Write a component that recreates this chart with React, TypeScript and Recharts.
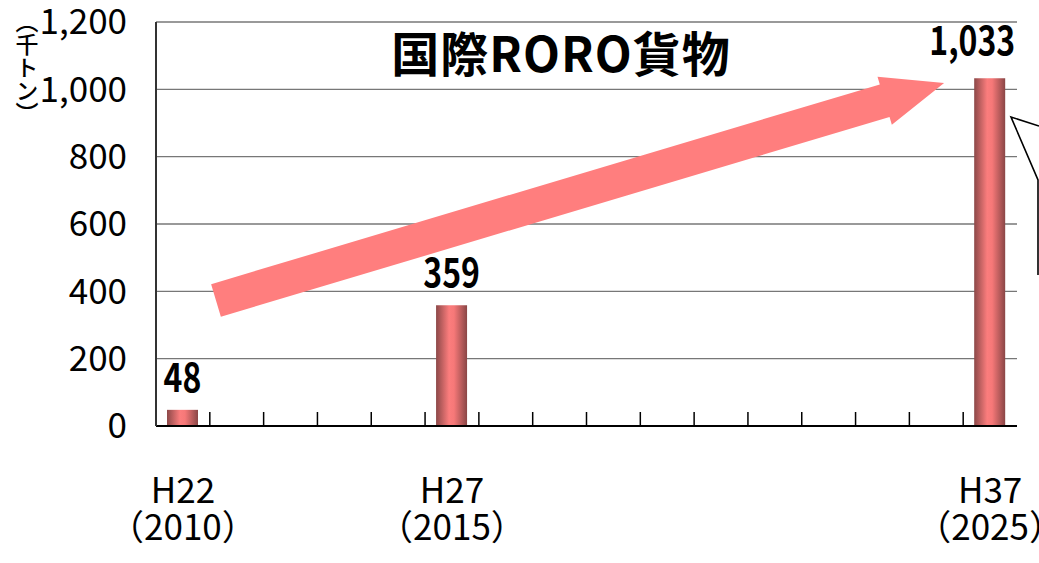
import React from 'react';
import { BarChart, Bar, XAxis, YAxis, CartesianGrid, LabelList, ReferenceLine } from 'recharts';

// fiscal years (Heisei) and their western equivalents
const years = ['H22', 'H23', 'H24', 'H25', 'H26', 'H27', 'H28', 'H29', 'H30', 'H31', 'H32', 'H33', 'H34', 'H35', 'H36', 'H37'];
const westernYears = ['2010', '2011', '2012', '2013', '2014', '2015', '2016', '2017', '2018', '2019', '2020', '2021', '2022', '2023', '2024', '2025'];
// 千トン
const cargo = [48, null, null, null, null, 359, null, null, null, null, null, null, null, null, null, 1033];
const labeledYears = ['H22', 'H27', 'H37'];
const yTicks = [0, 200, 400, 600, 800, 1000, 1200];

// growth arrow: spans part of the H22 -> H37 distance, values at tail and tip
const arrowYears = ['H22', 'H37'];
const arrowValues = [373, 1019];
const arrowStart = 0.041;
const arrowEnd = 0.943;

const data = years.map((y, i) => ({ year: y, western: westernYears[i], cargo: cargo[i] }));

const CJK = "'Noto Sans CJK JP', sans-serif";

const XTick = (props: any) => {
  const { x, y, payload, index } = props;
  const half = payload.offset ?? 27;
  const show = labeledYears.includes(payload.value);
  const i = years.indexOf(payload.value);
  return (
    <g>
      {index > 0 && <line x1={x - half} x2={x - half} y1={y - 14} y2={y} stroke="#000" strokeWidth={1.5} />}
      {show && (
        <text x={x} y={y + 77} textAnchor="middle" fontFamily={CJK} fontSize={35} fill="#000">
          {payload.value}
        </text>
      )}
      {show && (
        <text x={x} y={y + 114} textAnchor="middle" fontFamily={CJK} fontSize={35} fill="#000">
          {'（' + westernYears[i] + '）'}
        </text>
      )}
    </g>
  );
};

const ValueLabel = (props: any) => {
  const { x, y, width, value, index } = props;
  if (value == null) return null;
  // the last label sits against the right edge of the plot
  const last = index === years.length - 1 || value === cargo[cargo.length - 1];
  const tx = last ? x + width + 10 : x + width / 2;
  const ty = y - (last ? 23 : 18);
  return (
    <text
      transform={`translate(${tx},${ty}) scale(0.8,1)`}
      textAnchor={last ? 'end' : 'middle'}
      fontFamily={CJK}
      fontWeight="bold"
      fontSize={40}
      fill="#000"
    >
      {Number(value).toLocaleString('en-US')}
    </text>
  );
};

const Arrow = (props: any) => {
  const { x1: ax, y1, x2: bx0, y2 } = props;
  const x1 = ax + arrowStart * (bx0 - ax);
  const x2 = ax + arrowEnd * (bx0 - ax);
  const len = Math.hypot(x2 - x1, y2 - y1);
  const ux = (x2 - x1) / len;
  const uy = (y2 - y1) / len;
  const nx = -uy;
  const ny = ux;
  const hw = 17;
  const HW = 25;
  const headLen = 62;
  const bx = x2 - ux * headLen;
  const by = y2 - uy * headLen;
  const pts = [
    [x1 + nx * hw, y1 + ny * hw],
    [bx + nx * hw, by + ny * hw],
    [bx + nx * HW, by + ny * HW],
    [x2, y2],
    [bx - nx * HW, by - ny * HW],
    [bx - nx * hw, by - ny * hw],
    [x1 - nx * hw, y1 - ny * hw],
  ];
  return <polygon points={pts.map((p) => p.join(',')).join(' ')} fill="#ff7e7e" stroke="none" />;
};

const App: React.FC = () => {
  return (
    <div style={{ position: 'absolute', left: 0, top: 0, width: 1039, height: 563, background: '#fff' }}>
      <svg width={0} height={0} style={{ position: 'absolute' }}>
        <defs>
          <linearGradient id="barGrad" x1="0" y1="0" x2="1" y2="0">
            <stop offset="0%" stopColor="#8c4848" />
            <stop offset="42%" stopColor="#fb7d7d" />
            <stop offset="58%" stopColor="#f67878" />
            <stop offset="100%" stopColor="#8a4646" />
          </linearGradient>
        </defs>
      </svg>
      <BarChart width={1039} height={563} data={data} margin={{ top: 22, right: 22, left: 0, bottom: 0 }} barCategoryGap={0}>
        <CartesianGrid vertical={false} stroke="#777" strokeWidth={1.3} />
        <XAxis
          dataKey="year"
          interval={0}
          height={137}
          tickSize={0}
          tickMargin={0}
          tickLine={false}
          axisLine={{ stroke: '#000', strokeWidth: 2 }}
          tick={<XTick />}
        />
        <YAxis
          domain={[0, 1200]}
          ticks={yTicks}
          width={156}
          tickSize={0}
          tickMargin={29}
          tickLine={false}
          axisLine={{ stroke: '#333', strokeWidth: 2 }}
          tickFormatter={(v: number) => v.toLocaleString('en-US')}
          tick={{ fontSize: 35, fill: '#000', fontFamily: CJK }}
          label={{
            content: () => (
              <text x={27} y={10} fontFamily={CJK} fontSize={23} fontWeight={500} fill="#000" style={{ writingMode: 'vertical-rl' }}>
                （千トン）
              </text>
            ),
          }}
        />
        <YAxis yAxisId="r" orientation="right" width={0} tick={false} tickLine={false} axisLine={{ stroke: '#999', strokeWidth: 1.5 }} />
        <ReferenceLine
          segment={[{ x: arrowYears[0], y: arrowValues[0] }, { x: arrowYears[1], y: arrowValues[1] }]}
          shape={<Arrow />}
          ifOverflow="visible"
        />
        <Bar dataKey="cargo" barSize={31} fill="url(#barGrad)" isAnimationActive={false}>
          <LabelList dataKey="cargo" content={<ValueLabel />} />
        </Bar>
      </BarChart>
      <svg width={1039} height={563} style={{ position: 'absolute', left: 0, top: 0, pointerEvents: 'none' }}>
        <text x={561} y={72} textAnchor="middle" fontFamily={CJK} fontWeight="bold" fontSize={48} letterSpacing={1} fill="#000">
          国際RORO貨物
        </text>
        <polyline points="1039,126 1011,117 1038,180 1038,275" fill="none" stroke="#000" strokeWidth={1.6} />
      </svg>
    </div>
  );
};

export default App;
